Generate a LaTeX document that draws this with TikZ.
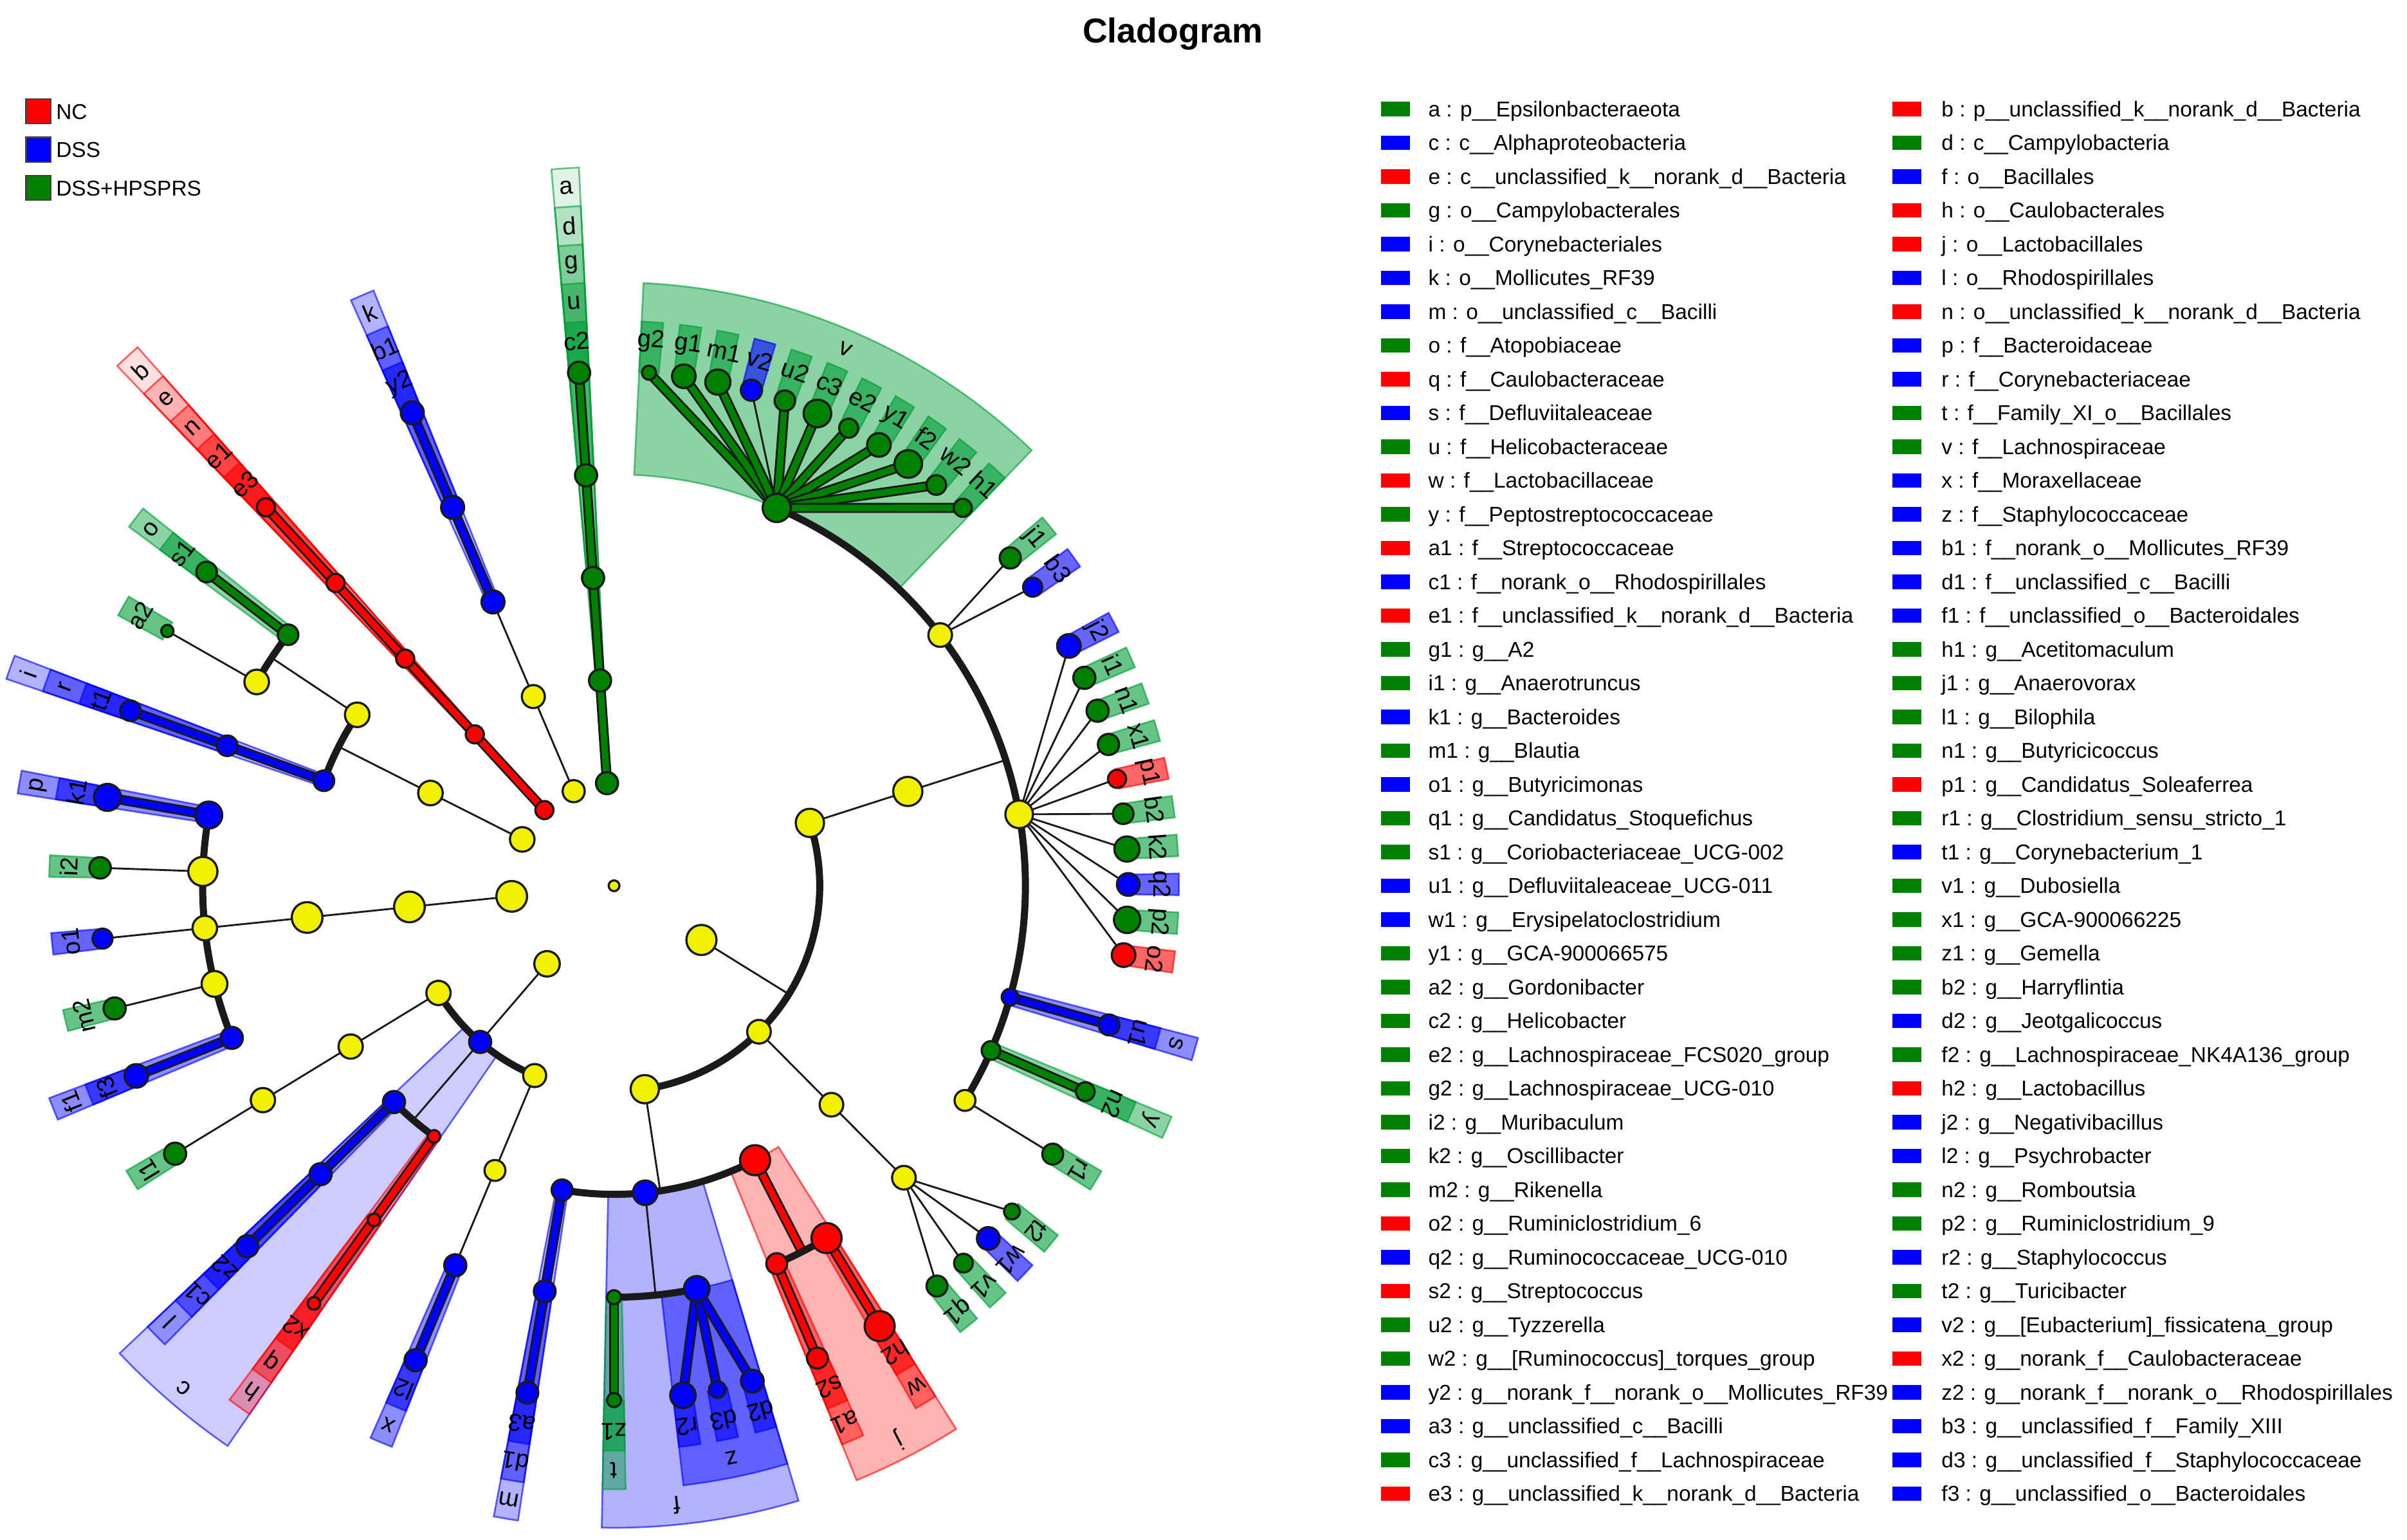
\documentclass[tikz,border=0pt]{standalone}
\usepackage{fontspec}
\setmainfont{Liberation Sans}
\pgfdeclarelayer{bglayer}
\pgfdeclarelayer{wedgelayer}
\pgfdeclarelayer{linelayer}
\pgfsetlayers{bglayer,wedgelayer,linelayer,main}
\definecolor{cred}{RGB}{255,0,0}
\definecolor{cblue}{RGB}{0,0,255}
\definecolor{cgreen}{RGB}{0,128,0}
\definecolor{cyel}{RGB}{240,240,0}
\definecolor{hred}{RGB}{255,0,0}
\definecolor{hblue}{RGB}{0,0,255}
\definecolor{hgreen}{RGB}{0,158,55}
\definecolor{dk}{RGB}{26,26,26}
\def\HLalpha#1{\ifcase#1\or0.12\or0.2\or0.3\or0.45\or0.6\fi}
\def\HLrout#1{\ifcase#1\or468.4\or443.3\or418.2\or393.1\or368\fi}
\def\HLrlab#1{\ifcase#1\or455.9\or430.8\or405.7\or380.6\or355.5\fi}
\tikzset{
  cnode/.style={circle, draw=dk, line width=1.4pt, inner sep=0pt, outer sep=0pt},
  thinl/.style={line width=1.2pt, draw=dk},
  arcl/.style={line width=4.6pt, draw=dk},
  labtxt/.style={font=\fontsize{16}{16}\selectfont, inner sep=0pt, text=black},
  lgtxt/.style={font=\fontsize{14}{16}\selectfont, inner sep=0pt, text=black},
  lgsq/.style={rectangle, minimum width=19pt, minimum height=9.5pt, inner sep=0pt, draw=none},
  lgbig/.style={rectangle, minimum size=16pt, inner sep=0pt, draw=black!75, line width=0.9pt},
  titletxt/.style={font=\fontsize{22.5}{26}\selectfont\bfseries, inner sep=0pt}
}
% clade node: name, fill, angle, radius, size
\newcommand{\CNd}[5]{\node[cnode, fill=#2, minimum size={2*#5pt}] (#1) at ({#3}:{#4pt}) {};}
% highlight wedge: colour, level, min angle, max angle
\newcommand{\HLw}[4]{%
  \pgfmathsetmacro{\HLa}{#3-1.1}%
  \pgfmathsetmacro{\HLb}{#4+1.1}%
  \edef\HLri{\number\numexpr67*#2\relax}%
  \edef\HLro{\HLrout{#2}}%
  \edef\HLop{\HLalpha{#2}}%
  \path[fill=#1, fill opacity=\HLop, draw=#1, draw opacity=0.6, line width=1.1pt]
    (\HLa:\HLri pt) arc[start angle=\HLa, end angle=\HLb, radius=\HLri pt]
    -- (\HLb:\HLro pt) arc[start angle=\HLb, end angle=\HLa, radius=\HLro pt] -- cycle;}
% clade label: name, text, level, angle
\newcommand{\LBl}[4]{\edef\LBr{\HLrlab{#3}}\node[labtxt, rotate={#4-90}] (lab#1) at ({#4}:{\LBr pt}) {#2};}
% connectors
\newcommand{\CLl}[3]{\draw[line width=6.6pt, draw=dk] (#1.center) -- (#2.center);
  \draw[line width=4.2pt, draw=#3] (#1.center) -- (#2.center);}
\newcommand{\TLl}[2]{\draw[thinl] (#1.center) -- (#2.center);}
% legend entry: column, row, colour, name, text
\newcommand{\LGe}[5]{%
  \pgfmathsetmacro{\LGy}{932-22*(#2-1)}%
  \ifnum#1=1 \def\LGsx{909.1}\def\LGtx{930.3}\else\def\LGsx{1242.2}\def\LGtx{1264.6}\fi
  \node[lgsq, fill=#3] (sq#4) at (\LGsx,\LGy) {};
  \node[lgtxt, anchor=base west] (tx#4) at (\LGtx,\LGy-5) {#5};}
\begin{document}
\begin{tikzpicture}[x=1pt,y=1pt]
\useasboundingbox (0,0) rectangle (1568,1003);
\begin{pgfonlayer}{bglayer}
\fill[white] (0,0) rectangle (1568,1003);
\end{pgfonlayer}
\node[titletxt, anchor=base] (title) at (764,975) {Cladogram};
% group legend
\node[lgbig, fill=cred] (gNC) at (25,930.4) {};
\node[lgtxt, anchor=base west] (tNC) at (36.4,925.4) {NC};
\node[lgbig, fill=cblue] (gDSS) at (25,905.5) {};
\node[lgtxt, anchor=base west] (tDSS) at (36.4,900.5) {DSS};
\node[lgbig, fill=cgreen] (gHP) at (25,880.6) {};
\node[lgtxt, anchor=base west] (tHP) at (36.4,875.6) {DSS+HPSPRS};

\begin{scope}[shift={(400,426)}]
% ---------------- nodes ----------------
\CNd{root}{cyel}{0}{0}{3.5}
% Epsilonbacteraeota
\CNd{a}{cgreen}{93.9}{67}{7.2}
\CNd{d}{cgreen}{93.9}{134}{7.2}
\CNd{g}{cgreen}{93.9}{201}{7.2}
\CNd{u}{cgreen}{93.9}{268}{7.2}
\CNd{c2}{cgreen}{93.9}{335}{7.2}
% Tenericutes
\CNd{Ten}{cyel}{113.1}{67}{7.2}
\CNd{Mol}{cyel}{113.1}{134}{7.5}
\CNd{k}{cblue}{113.1}{201}{7.5}
\CNd{b1}{cblue}{113.1}{268}{7.5}
\CNd{y2}{cblue}{113.1}{335}{7.5}
% unclassified Bacteria
\CNd{b}{cred}{132.6}{67}{5.9}
\CNd{e}{cred}{132.6}{134}{5.9}
\CNd{n}{cred}{132.6}{201}{5.9}
\CNd{e1}{cred}{132.6}{268}{5.9}
\CNd{e3}{cred}{132.6}{335}{5.9}
% Actinobacteria
\CNd{Act}{cyel}{153.2}{67}{8}
\CNd{Actc}{cyel}{153.2}{134}{8}
\CNd{Cor}{cyel}{146.35}{201}{8}
\CNd{i}{cblue}{160.1}{201}{6.7}
\CNd{Egg}{cyel}{150.3}{268}{8}
\CNd{o}{cgreen}{142.4}{268}{6.7}
\CNd{a2}{cgreen}{150.3}{335}{4}
\CNd{s1}{cgreen}{142.4}{335}{6.7}
\CNd{r}{cblue}{160.1}{268}{6.7}
\CNd{t1}{cblue}{160.1}{335}{6.7}
% Bacteroidetes
\CNd{Bac}{cyel}{185.9}{67}{10}
\CNd{Bacc}{cyel}{185.9}{134}{10}
\CNd{Baco}{cyel}{185.9}{201}{10}
\CNd{p}{cblue}{170.1}{268}{8.8}
\CNd{Mur}{cyel}{178}{268}{9.5}
\CNd{Mar}{cyel}{185.9}{268}{8}
\CNd{Rik}{cyel}{193.8}{268}{8.4}
\CNd{f1}{cblue}{201.7}{268}{7.2}
\CNd{k1}{cblue}{170.1}{335}{8.8}
\CNd{i2}{cgreen}{178}{335}{7}
\CNd{o1}{cblue}{185.9}{335}{6.5}
\CNd{m2}{cgreen}{193.8}{335}{7.2}
\CNd{f3}{cblue}{201.7}{335}{7.7}
% Proteobacteria
\CNd{Pro}{cyel}{229.35}{67}{8.3}
\CNd{Del}{cyel}{211.4}{134}{7.9}
\CNd{c}{cblue}{229.4}{134}{7.2}
\CNd{Gam}{cyel}{247.3}{134}{7.5}
\CNd{Deo}{cyel}{211.4}{201}{7.9}
\CNd{Def}{cyel}{211.4}{268}{7.9}
\CNd{l1}{cgreen}{211.4}{335}{7.2}
\CNd{l}{cblue}{224.5}{201}{7.2}
\CNd{c1}{cblue}{224.5}{268}{7.2}
\CNd{z2}{cblue}{224.5}{335}{7.2}
\CNd{h}{cred}{234.3}{201}{4.1}
\CNd{q}{cred}{234.3}{268}{4.1}
\CNd{x2}{cred}{234.3}{335}{4.1}
\CNd{Pse}{cyel}{247.3}{201}{6.8}
\CNd{x}{cblue}{247.3}{268}{7.2}
\CNd{l2}{cblue}{247.3}{335}{7.2}
% Firmicutes
\CNd{Fir}{cyel}{328.2}{67}{9.8}
\CNd{Bai}{cyel}{278.6}{134}{9.2}
\CNd{Ery}{cyel}{314.8}{134}{7.7}
\CNd{Cls}{cyel}{17.8}{134}{9.2}
\CNd{m}{cblue}{260.3}{201}{6.8}
\CNd{f}{cblue}{275.8}{201}{8}
\CNd{j}{cred}{297.2}{201}{9.8}
\CNd{d1}{cblue}{260.3}{268}{7.1}
\CNd{a3}{cblue}{260.3}{335}{7.1}
\CNd{t}{cgreen}{270}{268}{4.6}
\CNd{z}{cblue}{281.6}{268}{8.3}
\CNd{z1}{cgreen}{270}{335}{4.6}
\CNd{r2}{cblue}{277.7}{335}{8.3}
\CNd{d3}{cblue}{281.6}{335}{5.5}
\CNd{d2}{cblue}{285.6}{335}{7.4}
\CNd{a1}{cred}{293.3}{268}{6.8}
\CNd{w}{cred}{301.1}{268}{9.8}
\CNd{s2}{cred}{293.3}{335}{6.8}
\CNd{h2}{cred}{301.1}{335}{9.8}
\CNd{Ero}{cyel}{314.8}{201}{7.7}
\CNd{Erf}{cyel}{314.8}{268}{7.7}
\CNd{q1}{cgreen}{308.9}{335}{6.8}
\CNd{v1}{cgreen}{312.8}{335}{6.1}
\CNd{w1}{cblue}{316.7}{335}{7.4}
\CNd{t2}{cgreen}{320.7}{335}{5.2}
\CNd{Clo}{cyel}{17.8}{201}{9.5}
\CNd{Cl1}{cyel}{-31.45}{268}{6.8}
\CNd{r1}{cgreen}{-31.45}{335}{6.8}
\CNd{y}{cgreen}{-23.6}{268}{6.1}
\CNd{n2}{cgreen}{-23.6}{335}{6.1}
\CNd{s}{cblue}{-15.7}{268}{5.5}
\CNd{u1}{cblue}{-15.7}{335}{6.8}
\CNd{Rum}{cyel}{10}{268}{9}
\CNd{j2}{cblue}{27.8}{335}{7.7}
\CNd{i1}{cgreen}{23.85}{335}{7.2}
\CNd{n1}{cgreen}{19.9}{335}{7.2}
\CNd{x1}{cgreen}{15.95}{335}{6.9}
\CNd{p1}{cred}{12}{335}{5.9}
\CNd{b2}{cgreen}{8.05}{335}{6.7}
\CNd{k2}{cgreen}{4.1}{335}{8.2}
\CNd{q2}{cblue}{0.15}{335}{7.4}
\CNd{p2}{cgreen}{-3.8}{335}{8.6}
\CNd{o2}{cred}{-7.75}{335}{7.7}
\CNd{FXI}{cyel}{37.55}{268}{7.7}
\CNd{j1}{cgreen}{39.6}{335}{6.9}
\CNd{b3}{cblue}{35.5}{335}{6.2}
\CNd{v}{cgreen}{66.7}{268}{9.2}
\CNd{g2}{cgreen}{86.1}{335}{4.6}
\CNd{g1}{cgreen}{82.2}{335}{7.7}
\CNd{m1}{cgreen}{78.35}{335}{8.2}
\CNd{v2}{cblue}{74.5}{335}{6.9}
\CNd{u2}{cgreen}{70.6}{335}{6.7}
\CNd{c3}{cgreen}{66.7}{335}{9}
\CNd{e2}{cgreen}{62.85}{335}{6.2}
\CNd{y1}{cgreen}{59}{335}{7.7}
\CNd{f2}{cgreen}{55.1}{335}{9}
\CNd{w2}{cgreen}{51.2}{335}{6.4}
\CNd{h1}{cgreen}{47.3}{335}{5.9}
% arc junction points
\coordinate (ActcX) at (153.2:201pt);
\coordinate (CorX) at (146.35:268pt);
\coordinate (ProX) at (229.35:134pt);
\coordinate (cX) at (229.4:201pt);
\coordinate (FirX) at (328.2:134pt);
\coordinate (BaiX) at (278.6:201pt);
\coordinate (fX) at (275.8:268pt);
\coordinate (jX) at (297.2:268pt);
\coordinate (CloX) at (17.8:268pt);

% ---------------- connectors ----------------
\begin{pgfonlayer}{linelayer}
\CLl{a}{d}{cgreen}\CLl{d}{g}{cgreen}\CLl{g}{u}{cgreen}\CLl{u}{c2}{cgreen}
\TLl{Ten}{Mol}\TLl{Mol}{k}\CLl{k}{b1}{cblue}\CLl{b1}{y2}{cblue}
\CLl{b}{e}{cred}\CLl{e}{n}{cred}\CLl{n}{e1}{cred}\CLl{e1}{e3}{cred}
% Actinobacteria
\TLl{Act}{Actc}\TLl{Actc}{ActcX}
\draw[arcl] (Cor.center) arc[start angle=146.35, end angle=160.1, radius=201pt];
\TLl{Cor}{CorX}
\draw[arcl] (o.center) arc[start angle=142.4, end angle=150.3, radius=268pt];
\TLl{Egg}{a2}\CLl{o}{s1}{cgreen}\CLl{i}{r}{cblue}\CLl{r}{t1}{cblue}
% Bacteroidetes
\TLl{Bac}{Bacc}\TLl{Bacc}{Baco}\TLl{Baco}{Mar}
\draw[arcl] (p.center) arc[start angle=170.1, end angle=201.7, radius=268pt];
\CLl{p}{k1}{cblue}\TLl{Mur}{i2}\TLl{Mar}{o1}\TLl{Rik}{m2}\CLl{f1}{f3}{cblue}
% Proteobacteria
\TLl{Pro}{ProX}
\draw[arcl] (Del.center) arc[start angle=211.4, end angle=247.3, radius=134pt];
\TLl{Del}{Deo}\TLl{Deo}{Def}\TLl{Def}{l1}
\TLl{c}{cX}
\draw[arcl] (l.center) arc[start angle=224.5, end angle=234.3, radius=201pt];
\CLl{l}{c1}{cblue}\CLl{c1}{z2}{cblue}\CLl{h}{q}{cred}\CLl{q}{x2}{cred}
\TLl{Gam}{Pse}\TLl{Pse}{x}\CLl{x}{l2}{cblue}
% Firmicutes
\TLl{Fir}{FirX}
\draw[arcl] (Bai.center) arc[start angle=278.6, end angle=377.8, radius=134pt];
\TLl{Bai}{BaiX}
\draw[arcl] (m.center) arc[start angle=260.3, end angle=297.2, radius=201pt];
\CLl{m}{d1}{cblue}\CLl{d1}{a3}{cblue}
\TLl{f}{fX}
\draw[arcl] (t.center) arc[start angle=270, end angle=281.6, radius=268pt];
\CLl{t}{z1}{cgreen}\CLl{z}{r2}{cblue}\CLl{z}{d3}{cblue}\CLl{z}{d2}{cblue}
\CLl{j}{jX}{cred}
\draw[arcl] (a1.center) arc[start angle=293.3, end angle=301.1, radius=268pt];
\CLl{a1}{s2}{cred}\CLl{w}{h2}{cred}
\TLl{Ery}{Ero}\TLl{Ero}{Erf}
\foreach \lf in {q1,v1,w1,t2} {\TLl{Erf}{\lf}}
\TLl{Cls}{Clo}\TLl{Clo}{CloX}
\draw[arcl] (Cl1.center) arc[start angle=-31.45, end angle=66.7, radius=268pt];
\TLl{Cl1}{r1}\CLl{y}{n2}{cgreen}\CLl{s}{u1}{cblue}
\foreach \lf in {j2,i1,n1,x1,p1,b2,k2,q2,p2,o2} {\TLl{Rum}{\lf}}
\TLl{FXI}{j1}\TLl{FXI}{b3}
\foreach \lf in {g2,g1,m1,u2,c3,e2,y1,f2,w2,h1} {\CLl{v}{\lf}{cgreen}}
\TLl{v}{v2}
\end{pgfonlayer}

% ---------------- highlight wedges ----------------
\begin{pgfonlayer}{wedgelayer}
\HLw{hgreen}{1}{93.9}{93.9}
\HLw{hred}{1}{132.6}{132.6}
\HLw{hgreen}{2}{93.9}{93.9}
\HLw{hred}{2}{132.6}{132.6}
\HLw{hblue}{2}{224.5}{234.3}
\foreach \an/\co in {93.9/hgreen,113.1/hblue,132.6/hred,160.1/hblue,224.5/hblue,234.3/hred,260.3/hblue}
  {\HLw{\co}{3}{\an}{\an}}
\HLw{hblue}{3}{270}{285.6}
\HLw{hred}{3}{293.3}{301.1}
\foreach \an/\co in {93.9/hgreen,113.1/hblue,132.6/hred,142.4/hgreen,160.1/hblue,170.1/hblue,201.7/hblue,224.5/hblue,234.3/hred,247.3/hblue,260.3/hblue,270/hgreen,293.3/hred,301.1/hred,-23.6/hgreen,-15.7/hblue}
  {\HLw{\co}{4}{\an}{\an}}
\HLw{hblue}{4}{277.7}{285.6}
\HLw{hgreen}{4}{47.3}{86.1}
\foreach \an/\co in {93.9/hgreen,113.1/hblue,132.6/hred,142.4/hgreen,150.3/hgreen,160.1/hblue,170.1/hblue,178/hgreen,185.9/hblue,193.8/hgreen,201.7/hblue,211.4/hgreen,224.5/hblue,234.3/hred,247.3/hblue,260.3/hblue,270/hgreen,277.7/hblue,281.6/hblue,285.6/hblue,293.3/hred,301.1/hred,308.9/hgreen,312.8/hgreen,316.7/hblue,320.7/hgreen,-31.45/hgreen,-23.6/hgreen,-15.7/hblue,-7.75/hred,-3.8/hgreen,0.15/hblue,4.1/hgreen,8.05/hgreen,12/hred,15.95/hgreen,19.9/hgreen,23.85/hgreen,27.8/hblue,35.5/hblue,39.6/hgreen,47.3/hgreen,51.2/hgreen,55.1/hgreen,59/hgreen,62.85/hgreen,66.7/hgreen,70.6/hgreen,74.5/hblue,78.35/hgreen,82.2/hgreen,86.1/hgreen}
  {\HLw{\co}{5}{\an}{\an}}
\end{pgfonlayer}

% ---------------- clade labels ----------------
\LBl{a}{a}{1}{93.9}
\LBl{b}{b}{1}{132.6}
\LBl{d}{d}{2}{93.9}
\LBl{e}{e}{2}{132.6}
\LBl{c}{c}{2}{229.4}
\foreach \nm/\an in {g/93.9,k/113.1,n/132.6,i/160.1,l/224.5,h/234.3,m/260.3,f/275.8,j/297.2}
  {\LBl{\nm}{\nm}{3}{\an}}
\foreach \nm/\an in {u/93.9,b1/113.1,e1/132.6,o/142.4,r/160.1,p/170.1,f1/201.7,c1/224.5,q/234.3,x/247.3,d1/260.3,t/270,z/281.6,a1/293.3,w/301.1,y/-23.6,s/-15.7,v/66.7}
  {\LBl{\nm}{\nm}{4}{\an}}
\foreach \nm/\an in {c2/93.9,y2/113.1,e3/132.6,s1/142.4,a2/150.3,t1/160.1,k1/170.1,i2/178,o1/185.9,m2/193.8,f3/201.7,l1/211.4,z2/224.5,x2/234.3,l2/247.3,a3/260.3,z1/270,r2/277.7,d3/281.6,d2/285.6,s2/293.3,h2/301.1,q1/308.9,v1/312.8,w1/316.7,t2/320.7,r1/-31.45,n2/-23.6,u1/-15.7,o2/-7.75,p2/-3.8,q2/0.15,k2/4.1,b2/8.05,p1/12,x1/15.95,n1/19.9,i1/23.85,j2/27.8,b3/35.5,j1/39.6,h1/47.3,w2/51.2,f2/55.1,y1/59,e2/62.85,c3/66.7,u2/70.6,v2/74.5,m1/78.35,g1/82.2,g2/86.1}
  {\LBl{\nm}{\nm}{5}{\an}}
\end{scope}

% ---------------- clade legend ----------------
\LGe{1}{1}{cgreen}{a}{a : p\_\_Epsilonbacteraeota}
\LGe{1}{2}{cblue}{c}{c : c\_\_Alphaproteobacteria}
\LGe{1}{3}{cred}{e}{e : c\_\_unclassified\_k\_\_norank\_d\_\_Bacteria}
\LGe{1}{4}{cgreen}{g}{g : o\_\_Campylobacterales}
\LGe{1}{5}{cblue}{i}{i : o\_\_Corynebacteriales}
\LGe{1}{6}{cblue}{k}{k : o\_\_Mollicutes\_RF39}
\LGe{1}{7}{cblue}{m}{m : o\_\_unclassified\_c\_\_Bacilli}
\LGe{1}{8}{cgreen}{o}{o : f\_\_Atopobiaceae}
\LGe{1}{9}{cred}{q}{q : f\_\_Caulobacteraceae}
\LGe{1}{10}{cblue}{s}{s : f\_\_Defluviitaleaceae}
\LGe{1}{11}{cgreen}{u}{u : f\_\_Helicobacteraceae}
\LGe{1}{12}{cred}{w}{w : f\_\_Lactobacillaceae}
\LGe{1}{13}{cgreen}{y}{y : f\_\_Peptostreptococcaceae}
\LGe{1}{14}{cred}{a1}{a1 : f\_\_Streptococcaceae}
\LGe{1}{15}{cblue}{c1}{c1 : f\_\_norank\_o\_\_Rhodospirillales}
\LGe{1}{16}{cred}{e1}{e1 : f\_\_unclassified\_k\_\_norank\_d\_\_Bacteria}
\LGe{1}{17}{cgreen}{g1}{g1 : g\_\_A2}
\LGe{1}{18}{cgreen}{i1}{i1 : g\_\_Anaerotruncus}
\LGe{1}{19}{cblue}{k1}{k1 : g\_\_Bacteroides}
\LGe{1}{20}{cgreen}{m1}{m1 : g\_\_Blautia}
\LGe{1}{21}{cblue}{o1}{o1 : g\_\_Butyricimonas}
\LGe{1}{22}{cgreen}{q1}{q1 : g\_\_Candidatus\_Stoquefichus}
\LGe{1}{23}{cgreen}{s1}{s1 : g\_\_Coriobacteriaceae\_UCG-002}
\LGe{1}{24}{cblue}{u1}{u1 : g\_\_Defluviitaleaceae\_UCG-011}
\LGe{1}{25}{cblue}{w1}{w1 : g\_\_Erysipelatoclostridium}
\LGe{1}{26}{cgreen}{y1}{y1 : g\_\_GCA-900066575}
\LGe{1}{27}{cgreen}{a2}{a2 : g\_\_Gordonibacter}
\LGe{1}{28}{cgreen}{c2}{c2 : g\_\_Helicobacter}
\LGe{1}{29}{cgreen}{e2}{e2 : g\_\_Lachnospiraceae\_FCS020\_group}
\LGe{1}{30}{cgreen}{g2}{g2 : g\_\_Lachnospiraceae\_UCG-010}
\LGe{1}{31}{cgreen}{i2}{i2 : g\_\_Muribaculum}
\LGe{1}{32}{cgreen}{k2}{k2 : g\_\_Oscillibacter}
\LGe{1}{33}{cgreen}{m2}{m2 : g\_\_Rikenella}
\LGe{1}{34}{cred}{o2}{o2 : g\_\_Ruminiclostridium\_6}
\LGe{1}{35}{cblue}{q2}{q2 : g\_\_Ruminococcaceae\_UCG-010}
\LGe{1}{36}{cred}{s2}{s2 : g\_\_Streptococcus}
\LGe{1}{37}{cgreen}{u2}{u2 : g\_\_Tyzzerella}
\LGe{1}{38}{cgreen}{w2}{w2 : g\_\_[Ruminococcus]\_torques\_group}
\LGe{1}{39}{cblue}{y2}{y2 : g\_\_norank\_f\_\_norank\_o\_\_Mollicutes\_RF39}
\LGe{1}{40}{cblue}{a3}{a3 : g\_\_unclassified\_c\_\_Bacilli}
\LGe{1}{41}{cgreen}{c3}{c3 : g\_\_unclassified\_f\_\_Lachnospiraceae}
\LGe{1}{42}{cred}{e3}{e3 : g\_\_unclassified\_k\_\_norank\_d\_\_Bacteria}
\LGe{2}{1}{cred}{b}{b : p\_\_unclassified\_k\_\_norank\_d\_\_Bacteria}
\LGe{2}{2}{cgreen}{d}{d : c\_\_Campylobacteria}
\LGe{2}{3}{cblue}{f}{f : o\_\_Bacillales}
\LGe{2}{4}{cred}{h}{h : o\_\_Caulobacterales}
\LGe{2}{5}{cred}{j}{j : o\_\_Lactobacillales}
\LGe{2}{6}{cblue}{l}{l : o\_\_Rhodospirillales}
\LGe{2}{7}{cred}{n}{n : o\_\_unclassified\_k\_\_norank\_d\_\_Bacteria}
\LGe{2}{8}{cblue}{p}{p : f\_\_Bacteroidaceae}
\LGe{2}{9}{cblue}{r}{r : f\_\_Corynebacteriaceae}
\LGe{2}{10}{cgreen}{t}{t : f\_\_Family\_XI\_o\_\_Bacillales}
\LGe{2}{11}{cgreen}{v}{v : f\_\_Lachnospiraceae}
\LGe{2}{12}{cblue}{x}{x : f\_\_Moraxellaceae}
\LGe{2}{13}{cblue}{z}{z : f\_\_Staphylococcaceae}
\LGe{2}{14}{cblue}{b1}{b1 : f\_\_norank\_o\_\_Mollicutes\_RF39}
\LGe{2}{15}{cblue}{d1}{d1 : f\_\_unclassified\_c\_\_Bacilli}
\LGe{2}{16}{cblue}{f1}{f1 : f\_\_unclassified\_o\_\_Bacteroidales}
\LGe{2}{17}{cgreen}{h1}{h1 : g\_\_Acetitomaculum}
\LGe{2}{18}{cgreen}{j1}{j1 : g\_\_Anaerovorax}
\LGe{2}{19}{cgreen}{l1}{l1 : g\_\_Bilophila}
\LGe{2}{20}{cgreen}{n1}{n1 : g\_\_Butyricicoccus}
\LGe{2}{21}{cred}{p1}{p1 : g\_\_Candidatus\_Soleaferrea}
\LGe{2}{22}{cgreen}{r1}{r1 : g\_\_Clostridium\_sensu\_stricto\_1}
\LGe{2}{23}{cblue}{t1}{t1 : g\_\_Corynebacterium\_1}
\LGe{2}{24}{cgreen}{v1}{v1 : g\_\_Dubosiella}
\LGe{2}{25}{cgreen}{x1}{x1 : g\_\_GCA-900066225}
\LGe{2}{26}{cgreen}{z1}{z1 : g\_\_Gemella}
\LGe{2}{27}{cgreen}{b2}{b2 : g\_\_Harryflintia}
\LGe{2}{28}{cblue}{d2}{d2 : g\_\_Jeotgalicoccus}
\LGe{2}{29}{cgreen}{f2}{f2 : g\_\_Lachnospiraceae\_NK4A136\_group}
\LGe{2}{30}{cred}{h2}{h2 : g\_\_Lactobacillus}
\LGe{2}{31}{cblue}{j2}{j2 : g\_\_Negativibacillus}
\LGe{2}{32}{cblue}{l2}{l2 : g\_\_Psychrobacter}
\LGe{2}{33}{cgreen}{n2}{n2 : g\_\_Romboutsia}
\LGe{2}{34}{cgreen}{p2}{p2 : g\_\_Ruminiclostridium\_9}
\LGe{2}{35}{cblue}{r2}{r2 : g\_\_Staphylococcus}
\LGe{2}{36}{cgreen}{t2}{t2 : g\_\_Turicibacter}
\LGe{2}{37}{cblue}{v2}{v2 : g\_\_[Eubacterium]\_fissicatena\_group}
\LGe{2}{38}{cred}{x2}{x2 : g\_\_norank\_f\_\_Caulobacteraceae}
\LGe{2}{39}{cblue}{z2}{z2 : g\_\_norank\_f\_\_norank\_o\_\_Rhodospirillales}
\LGe{2}{40}{cblue}{b3}{b3 : g\_\_unclassified\_f\_\_Family\_XIII}
\LGe{2}{41}{cblue}{d3}{d3 : g\_\_unclassified\_f\_\_Staphylococcaceae}
\LGe{2}{42}{cblue}{f3}{f3 : g\_\_unclassified\_o\_\_Bacteroidales}
\end{tikzpicture}
\end{document}
